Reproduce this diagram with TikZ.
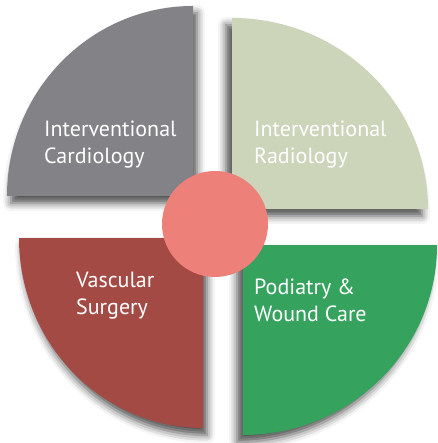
\documentclass[tikz,border=0pt]{standalone}
\usepackage{fontspec}
\setmainfont{PT Sans}
\usetikzlibrary{shadows.blur}
\definecolor{cardgrey}{HTML}{838287}
\definecolor{radsage}{HTML}{CCD4B9}
\definecolor{vascred}{HTML}{A34A45}
\definecolor{podgreen}{HTML}{35A35E}
\definecolor{hubpink}{HTML}{EE807A}
\begin{document}
\begin{tikzpicture}[
    x=1pt, y=1pt,
    shade/.style={blur shadow={shadow xshift=#1, shadow yshift=-7pt,
      shadow blur radius=8pt, shadow opacity=70}},
    label/.style={text=white, align=left, anchor=base west, inner sep=0pt,
      font=\fontsize{22}{27}\selectfont},
  ]
    \useasboundingbox (0,0) rectangle (437,-443);
    % quarter sectors
    \fill[cardgrey, shade=4pt] (193,-196) -- (7,-196)
      arc[start angle=180, end angle=90, x radius=186pt, y radius=190pt] -- cycle;
    \fill[radsage, shade=-6pt] (232,-209) -- (232,-18)
      arc[start angle=90, end angle=0, x radius=196pt, y radius=191pt] -- cycle;
    \fill[vascred, shade=4pt] (203,-238) -- (19,-238)
      arc[start angle=180, end angle=270, x radius=184pt, y radius=190pt] -- cycle;
    \fill[podgreen, shade=-6pt] (243,-245) -- (437,-245)
      arc[start angle=0, end angle=-90, x radius=194pt, y radius=190pt] -- cycle;
    % centre
    \node[circle, fill=hubpink, minimum size=106pt, inner sep=0pt] (hub) at (215,-224) {};
    % labels
    \node[label] (cardio) at (44,-164) {Interventional\\Cardiology};
    \node[label] (radio) at (254,-164) {Interventional\\Radiology};
    \node[label] (vasc) at (76,-314) {Vascular\\Surgery};
    \node[label] (podia) at (254,-321) {Podiatry \&\\Wound Care};
\end{tikzpicture}
\end{document}
